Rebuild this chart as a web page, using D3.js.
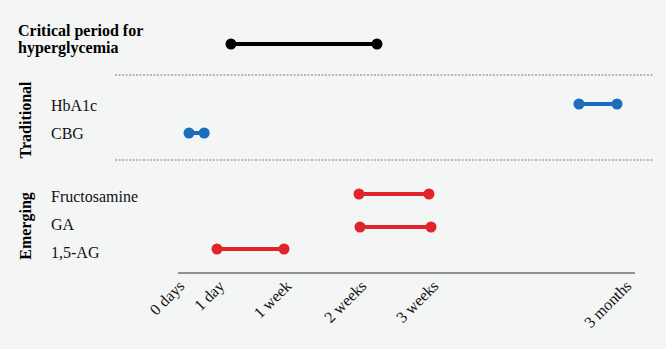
<!DOCTYPE html>
<html>
<head>
<meta charset="utf-8">
<script src="https://cdn.jsdelivr.net/npm/d3@7"></script>
<style>
  html, body { margin: 0; padding: 0; background: #f4f5f5; }
</style>
</head>
<body>
<div id="chart"></div>
<script>
// Time axis ticks (in days) and their labels
const tickDays = [0, 1, 7, 14, 21, 90];
const tickLabels = ["0 days", "1 day", "1 week", "2 weeks", "3 weeks", "3 months"];

// Rows, groups and the time window each marker covers (in days)
const rows = ["Critical", "HbA1c", "CBG", "Fructosamine", "GA", "1,5-AG"];
const rowLabels = ["", "HbA1c", "CBG", "Fructosamine", "GA", "1,5-AG"];
const rowGroup = ["critical", "traditional", "traditional", "emerging", "emerging", "emerging"];
const startDays = [2.25, 73.9, 0.3, 14, 14.1, 1];
const endDays = [15.75, 87.5, 0.68, 20.8, 21, 7];

const groups = ["critical", "traditional", "emerging"];
const groupColors = ["#000000", "#1c6dbd", "#e3232a"];

const width = 666, height = 349;

const svg = d3.select("#chart")
    .append("svg")
    .attr("width", width)
    .attr("height", height)
    .style("background", "#f4f5f5")
    .style("font-family", "'Liberation Serif', 'Times New Roman', serif");

// piecewise scale, the axis is not linear in time
const x = d3.scaleLinear()
    .domain(tickDays)
    .range([177, 217, 284, 359, 431, 624]);

const y = d3.scaleOrdinal()
    .domain(rows)
    .range([44, 104, 133, 194, 227, 249]);

const labelY = d3.scaleOrdinal()
    .domain(rows)
    .range([0, 110.5, 139, 201.5, 230, 258]);

const color = d3.scaleOrdinal().domain(groups).range(groupColors);

const data = rows.map((r, i) => ({
    row: r, label: rowLabels[i], group: rowGroup[i], start: startDays[i], end: endDays[i]
}));

// title
const title = svg.append("text")
    .attr("x", 18)
    .attr("y", 36)
    .style("font-size", "16px")
    .style("font-weight", "bold")
    .style("fill", "#000");
title.append("tspan").attr("x", 18).text("Critical period for");
title.append("tspan").attr("x", 18).attr("dy", 17).text("hyperglycemia");

// dashed separators
[75, 160].forEach(yy => {
    svg.append("line")
        .attr("x1", 115).attr("x2", 653)
        .attr("y1", yy).attr("y2", yy)
        .attr("stroke", "#7a7a7a")
        .attr("stroke-width", 1)
        .attr("stroke-dasharray", "2,1.5");
});

// group titles (rotated)
[["Traditional", 120], ["Emerging", 226]].forEach(([t, cy]) => {
    svg.append("text")
        .attr("transform", `translate(31,${cy}) rotate(-90)`)
        .attr("text-anchor", "middle")
        .style("font-size", "16px")
        .style("font-weight", "bold")
        .text(t);
});

// row labels
svg.selectAll(".row-label")
    .data(data.filter(d => d.label))
    .enter()
    .append("text")
    .attr("class", "row-label")
    .attr("x", 51)
    .attr("y", d => labelY(d.row))
    .style("font-size", "16px")
    .style("fill", "#111")
    .text(d => d.label);

// x axis
const axis = svg.append("g")
    .attr("transform", "translate(0,273)")
    .call(d3.axisBottom(x).tickValues(tickDays).tickSize(0).tickFormat((d, i) => tickLabels[i]));

axis.select(".domain")
    .attr("d", "M178,0H635")
    .attr("stroke", "#707070")
    .attr("stroke-width", 1.5);

axis.selectAll("text")
    .attr("x", 0).attr("y", 0).attr("dy", 0)
    .attr("transform", "translate(8,14) rotate(-45)")
    .style("text-anchor", "end")
    .style("font-size", "16px")
    .style("font-family", "'Liberation Serif', 'Times New Roman', serif")
    .style("fill", "#111");

// range bars
const marks = svg.selectAll(".mark")
    .data(data)
    .enter()
    .append("g")
    .attr("class", "mark");

marks.append("line")
    .attr("x1", d => x(d.start))
    .attr("x2", d => x(d.end))
    .attr("y1", d => y(d.row))
    .attr("y2", d => y(d.row))
    .attr("stroke", d => color(d.group))
    .attr("stroke-width", 4);

marks.selectAll("circle")
    .data(d => [d.start, d.end].map(v => ({ v, d })))
    .enter()
    .append("circle")
    .attr("cx", p => x(p.v))
    .attr("cy", p => y(p.d.row))
    .attr("r", 5.5)
    .attr("fill", p => color(p.d.group));
</script>
</body>
</html>
